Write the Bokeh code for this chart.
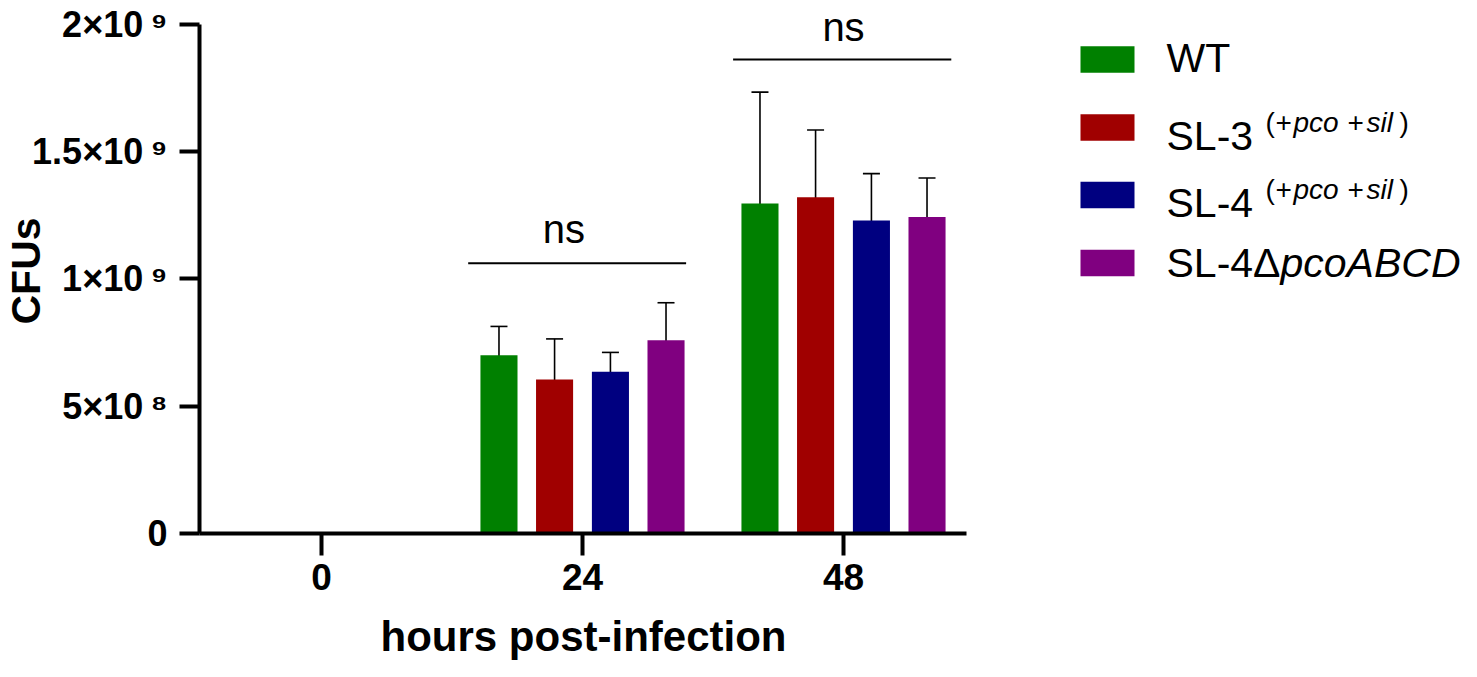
from bokeh.plotting import figure
from bokeh.models import Range1d, FixedTicker, Whisker, TeeHead, ColumnDataSource, Title
from bokeh.embed import file_html
from bokeh.resources import INLINE
from bokeh.core.properties import value

# ---------------- data ----------------
hours = ["0", "24", "48"]
strains = ["WT", "SL-3", "SL-4", "SL-4ΔpcoABCD"]
wt_mean = [0.0, 0.700e9, 1.296e9]
wt_sd = [0.0, 0.113e9, 0.437e9]
sl3_mean = [0.0, 0.605e9, 1.320e9]
sl3_sd = [0.0, 0.159e9, 0.264e9]
sl4_mean = [0.0, 0.635e9, 1.229e9]
sl4_sd = [0.0, 0.076e9, 0.184e9]
del_mean = [0.0, 0.759e9, 1.243e9]
del_sd = [0.0, 0.147e9, 0.153e9]
colors = ["#008000", "#A00000", "#000080", "#800080"]

y_ticks = [0, 5e8, 1e9, 1.5e9, 2e9]
y_tick_labels = ["0", "5×10\u2009⁸", "1×10\u2009⁹", "1.5×10\u2009⁹", "2×10\u2009⁹"]

# significance annotations
sig_group = [1, 2]
sig_left = [-0.438, -0.423]
sig_right = [0.397, 0.413]
sig_y = [1.061e9, 1.861e9]
sig_text_dx = [-0.071, 0.0]
sig_text_base_px = [243, 41]
sig_text = ["ns", "ns"]

means = [wt_mean, sl3_mean, sl4_mean, del_mean]
sds = [wt_sd, sl3_sd, sl4_sd, del_sd]

# ---------------- layout constants ----------------
FONT = "Liberation Sans"
offsets = [-0.32, -0.107, 0.107, 0.32]
bar_w = 0.142
FRAME_L, FRAME_W, FRAME_T, FRAME_H = 199, 1270, 8, 525
X0_PX, PX_PER_UNIT = 321.0, 261.0          # pixel of category 0, pixels per category
Y0_PX, PX_PER_1E9 = 533.0, 254.7           # pixel of y=0, pixels per 1e9
BASE_FIX = 0.36                            # empirical baseline correction (em)


def px(xp):
    return (xp - X0_PX) / PX_PER_UNIT


def py(yp):
    return (Y0_PX - yp) / PX_PER_1E9 * 1e9


def pyt(base, size):
    return py(base - BASE_FIX * size)


p = figure(output_backend="svg", toolbar_location=None,
           frame_width=FRAME_W, frame_height=FRAME_H,
           x_range=Range1d(px(FRAME_L), px(FRAME_L + FRAME_W)),
           y_range=Range1d(py(Y0_PX), py(FRAME_T)),
           min_border_left=FRAME_L, min_border_right=0, min_border_top=FRAME_T,
           min_border_bottom=136)
p.outline_line_color = None
p.grid.visible = False
p.background_fill_color = "white"
p.border_fill_color = "white"

for i in range(4):
    xs = [g + offsets[i] for g in range(len(hours))]
    src = ColumnDataSource(dict(x=xs, top=means[i]))
    p.vbar(x="x", top="top", width=bar_w, bottom=0, source=src,
           fill_color=colors[i], line_color=None)
    keep = [k for k in range(len(hours)) if means[i][k] > 0]
    wsrc = ColumnDataSource(dict(
        x=[xs[k] for k in keep],
        up=[means[i][k] + sds[i][k] for k in keep],
        lo=[means[i][k] - sds[i][k] for k in keep]))
    w = Whisker(base="x", upper="up", lower="lo", source=wsrc, dimension="height",
                line_color="black", line_width=1.6,
                upper_head=TeeHead(size=17, line_color="black", line_width=1.6),
                lower_head=TeeHead(size=17, line_color="black", line_width=1.6))
    p.add_layout(w)

# significance lines and labels
p.segment(x0=[g + d for g, d in zip(sig_group, sig_left)],
          x1=[g + d for g, d in zip(sig_group, sig_right)],
          y0=sig_y, y1=sig_y, line_color="black", line_width=2)
p.text(x=[g + d for g, d in zip(sig_group, sig_text_dx)],
       y=[pyt(b, 40) for b in sig_text_base_px], text=sig_text,
       text_font=value(FONT), text_font_size="40px", text_align="center",
       text_baseline="alphabetic", text_color="black")

# x axis
xa = p.xaxis[0]
xa.ticker = FixedTicker(ticks=list(range(len(hours))))
xa.major_label_overrides = {i: h for i, h in enumerate(hours)}
xa.bounds = (px(FRAME_L), px(966))
xa.axis_line_width = 4
xa.major_tick_line_width = 4
xa.major_tick_out = 22
xa.major_tick_in = 0
xa.minor_tick_line_color = None
xa.major_label_text_font = FONT
xa.major_label_text_font_style = "bold"
xa.major_label_text_font_size = "37px"
xa.major_label_text_color = "black"
xa.major_label_standoff = 8

# x axis title, placed under the axis bounds (left edge of text at ~380 px)
p.add_layout(Title(text="hours post-infection", align="left",
                   offset=380 - FRAME_L,
                   text_font=FONT, text_font_style="bold", text_font_size="42px",
                   text_color="black", standoff=36), "below")

# y axis
ya = p.yaxis[0]
ya.ticker = FixedTicker(ticks=y_ticks)
ya.major_label_overrides = {t: l for t, l in zip(y_ticks, y_tick_labels)}
ya.bounds = (0, 2e9)
ya.axis_line_width = 4
ya.major_tick_line_width = 4
ya.major_tick_out = 20
ya.major_tick_in = 0
ya.minor_tick_line_color = None
ya.major_label_text_font = FONT
ya.major_label_text_font_style = "bold"
ya.major_label_text_font_size = "36px"
ya.major_label_text_color = "black"
ya.major_label_standoff = 12
ya.axis_label = "CFUs"
ya.axis_label_text_font = FONT
ya.axis_label_text_font_style = "bold"
ya.axis_label_text_font_size = "41px"
ya.axis_label_text_color = "black"
ya.axis_label_standoff = -20

# ---------------- legend (drawn inside the frame, right of the x axis) ----------------
row_center = [59, 127, 194.5, 262.5]
text_base = [72.5, 150, 217, 277]
p.quad(left=[px(1080)] * 4, right=[px(1134)] * 4,
       top=[py(c - 13.3) for c in row_center], bottom=[py(c + 13.3) for c in row_center],
       fill_color=colors, line_color=None)

main_texts = ["WT", "SL-3", "SL-4", "SL-4Δ"]
p.text(x=[px(1166)] * 4, y=[pyt(b, 41) for b in text_base], text=main_texts,
       text_font=value(FONT), text_font_size="41px", text_baseline="alphabetic",
       text_color="black")
p.text(x=[px(1280)], y=[pyt(text_base[3], 41)], text=["pcoABCD"], text_font=value(FONT),
       text_font_size="41px", text_font_style="italic", text_baseline="alphabetic",
       text_color="black")

sup_pieces = ["(", "+", "pco", "+", "sil", ")"]
sup_x = [1265, 1275, 1293, 1347, 1366, 1399]
sup_italic = [False, False, True, False, True, False]
for r in (1, 2):
    for s, sx, it in zip(sup_pieces, sup_x, sup_italic):
        p.text(x=[px(sx)], y=[pyt(text_base[r] - 18, 28)], text=[s], text_font=value(FONT),
               text_font_size="28px", text_font_style="italic" if it else "normal",
               text_baseline="alphabetic", text_color="black")

open("out.html", "w").write(file_html(p, INLINE))
